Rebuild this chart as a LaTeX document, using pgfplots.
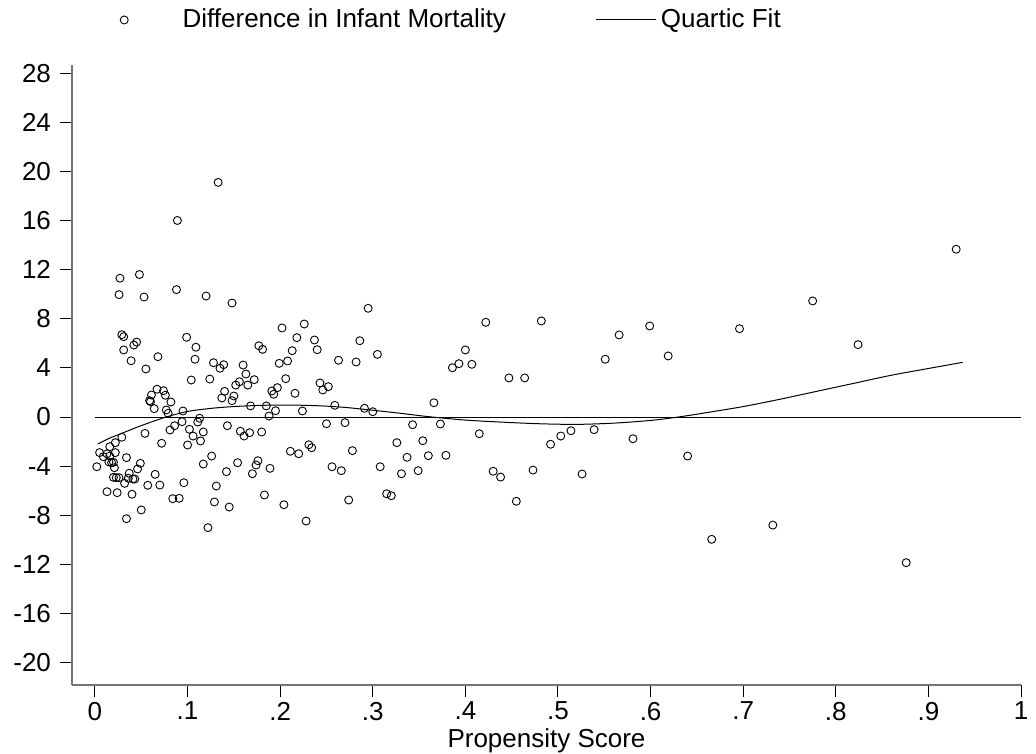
\documentclass[border=0pt]{standalone}
\usepackage{fontspec}
\setmainfont{Liberation Sans}
\usepackage{pgfplots}
\pgfplotsset{compat=1.18}
\pgfplotsset{
    scatleg/.style={legend image code/.code={\draw[##1] plot coordinates {(0pt,0pt)}; \path (27pt,0pt);}},
    lineleg/.style={legend image code/.code={\draw[##1] (0pt,0pt) -- (30pt,0pt);}},
}

\begin{document}
\fontsize{13}{15}\selectfont
\begin{tikzpicture}
\begin{axis}[
    scale only axis,
    width=474.5pt, height=310pt,
    xmin=-0.0248, xmax=1.0,
    ymin=-21.82, ymax=28.66,
    axis x line*=bottom, axis y line*=left,
    axis line style={black!55, line width=0.9pt},
    tick align=outside,
    major tick length=6pt,
    tick style={black, line width=0.5pt},
    xtick={0,0.1,0.2,0.3,0.4,0.5,0.6,0.7,0.8,0.9,1},
    xticklabels={0,.1,.2,.3,.4,.5,.6,.7,.8,.9,1},
    ytick={-20,-16,-12,-8,-4,0,4,8,12,16,20,24,28},
    yticklabels={-20,-16,-12,-8,-4,0,4,8,12,16,20,24,28},
    ticklabel style={font=\fontsize{13}{15}\selectfont},
    xticklabel style={yshift=2pt},
    xlabel={Propensity Score},
    xlabel style={font=\fontsize{13}{15}\selectfont, yshift=5pt},
    legend columns=2,
    legend style={draw=none, fill=none, inner sep=0pt,
        at={(0.0504,1.0726)}, anchor=west,
        font=\fontsize{13}{15}\selectfont,
        /tikz/every even column/.append style={column sep=43pt}},
]
% scatter of differences
\addplot[only marks, mark=o, mark size=2pt, mark options={line width=0.45pt}, black, scatleg]
coordinates {
(0.002,-4.05) (0.005,-2.90) (0.009,-3.23) (0.013,-3.00) (0.016,-3.18) (0.015,-3.66)
(0.018,-3.72) (0.020,-3.69) (0.016,-2.42) (0.022,-2.90) (0.022,-2.09) (0.021,-4.13)
(0.034,-3.31) (0.020,-4.91) (0.023,-4.94) (0.026,-4.94) (0.032,-5.40) (0.037,-4.58)
(0.036,-4.99) (0.041,-5.05) (0.043,-5.05) (0.046,-4.23) (0.049,-3.77) (0.013,-6.08)
(0.024,-6.16) (0.040,-6.29) (0.057,-5.56) (0.065,-4.67) (0.070,-5.54) (0.050,-7.57)
(0.034,-8.28) (0.084,-6.65) (0.091,-6.62) (0.096,-5.35) (0.072,-2.14) (0.100,-2.28)
(0.117,-3.83) (0.114,-1.95) (0.029,6.70) (0.031,6.54) (0.045,6.10) (0.042,5.86)
(0.031,5.46) (0.039,4.58) (0.068,4.91) (0.055,3.91) (0.099,6.49) (0.109,5.68)
(0.108,4.70) (0.104,3.01) (0.067,2.26) (0.074,2.14) (0.061,1.79) (0.076,1.77)
(0.059,1.33) (0.060,1.25) (0.082,1.22) (0.064,0.68) (0.077,0.57) (0.079,0.30)
(0.095,0.49) (0.113,-0.10) (0.094,-0.38) (0.086,-0.71) (0.081,-1.06) (0.102,-1.00)
(0.106,-1.55) (0.054,-1.33) (0.029,-1.65) (0.117,-1.22) (0.133,19.10) (0.089,16.00)
(0.027,11.30) (0.048,11.60) (0.026,9.96) (0.053,9.77) (0.088,10.37) (0.120,9.85)
(0.148,9.28) (0.124,3.09) (0.128,4.42) (0.135,3.97) (0.139,4.26) (0.160,4.23)
(0.163,3.50) (0.177,5.80) (0.181,5.51) (0.172,3.04) (0.165,2.60) (0.156,2.87)
(0.152,2.60) (0.140,2.09) (0.137,1.55) (0.150,1.71) (0.148,1.33) (0.168,0.90)
(0.295,8.85) (0.226,7.57) (0.202,7.25) (0.218,6.46) (0.237,6.27) (0.240,5.48)
(0.213,5.40) (0.286,6.21) (0.305,5.10) (0.263,4.62) (0.282,4.48) (0.199,4.37)
(0.208,4.56) (0.206,3.12) (0.191,2.12) (0.193,1.85) (0.197,2.39) (0.216,1.93)
(0.243,2.77) (0.252,2.47) (0.246,2.20) (0.185,0.90) (0.195,0.51) (0.188,0.08)
(0.224,0.49) (0.259,0.95) (0.291,0.71) (0.300,0.43) (0.143,-0.71) (0.250,-0.55)
(0.270,-0.46) (0.157,-1.16) (0.161,-1.55) (0.167,-1.28) (0.180,-1.22) (0.211,-2.79)
(0.220,-2.99) (0.231,-2.26) (0.234,-2.50) (0.278,-2.74) (0.308,-4.05) (0.126,-3.18)
(0.154,-3.72) (0.176,-3.56) (0.174,-3.91) (0.142,-4.45) (0.170,-4.62) (0.189,-4.18)
(0.256,-4.05) (0.266,-4.37) (0.131,-5.62) (0.129,-6.92) (0.145,-7.33) (0.183,-6.35)
(0.204,-7.14) (0.274,-6.76) (0.122,-9.01) (0.228,-8.47) (0.111,-0.41) (0.422,7.71)
(0.482,7.82) (0.400,5.46) (0.386,4.01) (0.393,4.34) (0.407,4.29) (0.447,3.18)
(0.464,3.18) (0.366,1.16) (0.343,-0.63) (0.373,-0.57) (0.415,-1.36) (0.326,-2.09)
(0.354,-1.93) (0.337,-3.28) (0.360,-3.15) (0.379,-3.12) (0.492,-2.22) (0.503,-1.55)
(0.514,-1.12) (0.331,-4.62) (0.349,-4.37) (0.430,-4.42) (0.438,-4.89) (0.473,-4.32)
(0.315,-6.25) (0.320,-6.41) (0.455,-6.86) (0.930,13.66) (0.775,9.45) (0.599,7.41)
(0.696,7.19) (0.566,6.68) (0.824,5.89) (0.551,4.70) (0.619,4.97) (0.526,-4.64)
(0.539,-1.03) (0.581,-1.77) (0.640,-3.18) (0.666,-9.96) (0.732,-8.80) (0.876,-11.86)
};
\addlegendentry{Difference in Infant Mortality}
% quartic fit
\addplot[black, line width=0.5pt, smooth, lineleg]
coordinates {
(0.003,-2.2) (0.015,-1.75) (0.03,-1.3) (0.05,-0.7) (0.077,0.0) (0.1,0.45)
(0.125,0.7) (0.15,0.85) (0.18,0.95) (0.21,0.97) (0.24,0.92) (0.27,0.78)
(0.30,0.55) (0.33,0.3) (0.36,0.03) (0.40,-0.25) (0.44,-0.42) (0.48,-0.55)
(0.52,-0.6) (0.56,-0.5) (0.60,-0.28) (0.63,0.0) (0.66,0.35) (0.70,0.85)
(0.74,1.45) (0.78,2.1) (0.82,2.75) (0.86,3.4) (0.90,3.95) (0.937,4.45)
};
\addlegendentry{Quartic Fit}
% zero reference line
\addplot[black, line width=0.5pt, forget plot] coordinates {(0,0) (1,0)};
\end{axis}
\pgfresetboundingbox
\path[use as bounding box] ([shift={(-36pt,-34pt)}]current axis.south west)
    rectangle ([shift={(7.5pt,32.5pt)}]current axis.north east);
\end{tikzpicture}
\end{document}
